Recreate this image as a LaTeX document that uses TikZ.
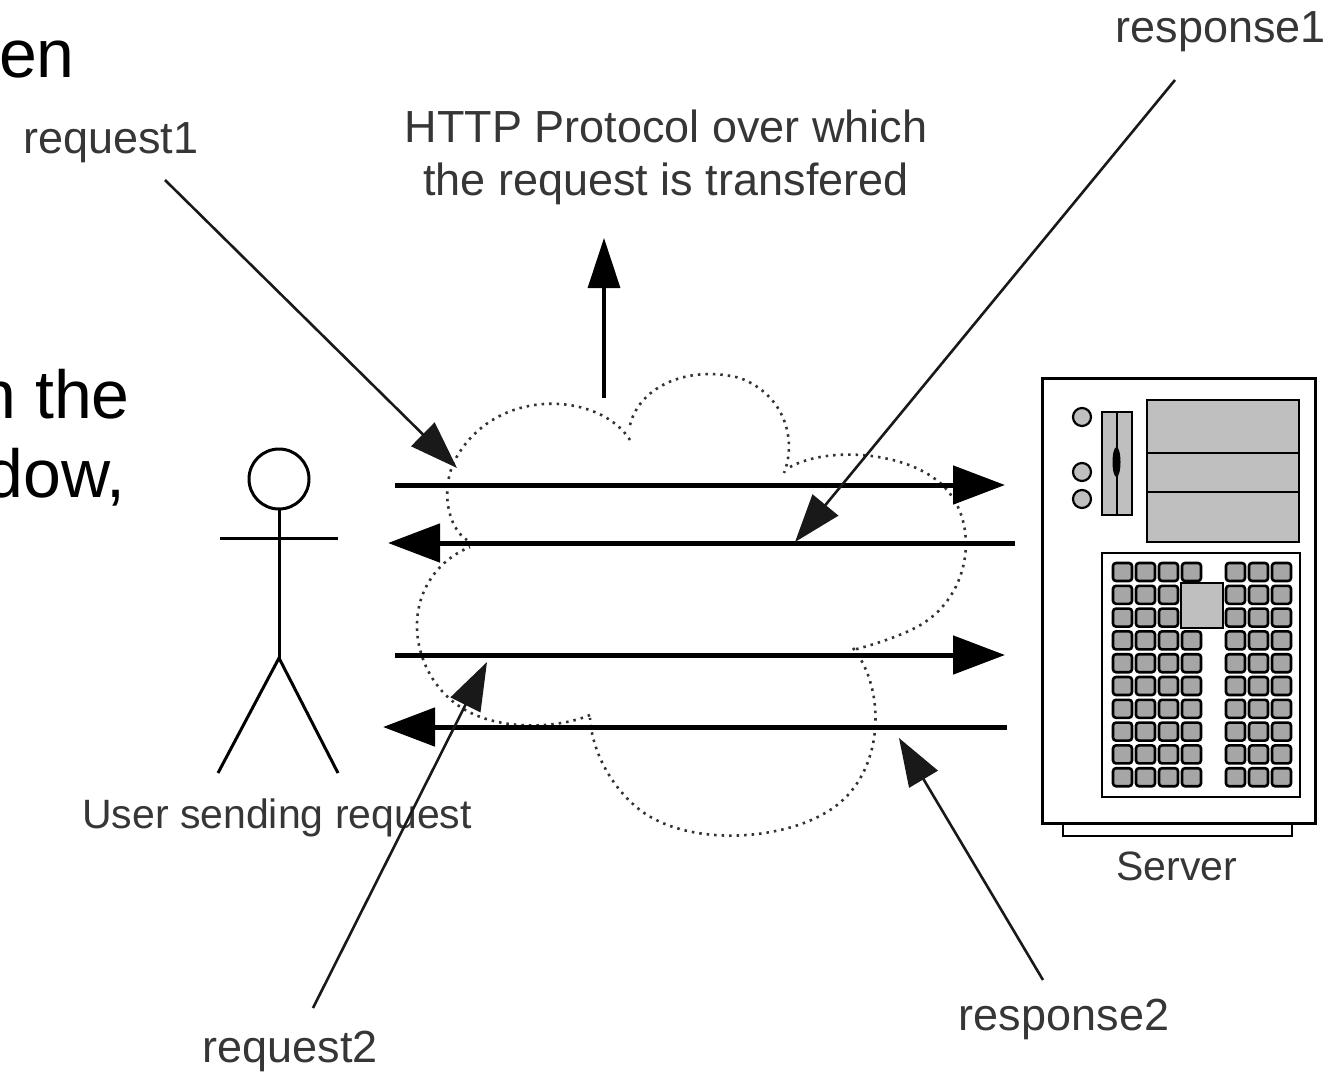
\documentclass[tikz,border=0pt]{standalone}
\usepackage{fontspec}
\setmainfont{Liberation Sans}
\usetikzlibrary{arrows.meta}
\definecolor{bayfill}{HTML}{BFBFBF}
\definecolor{labelgray}{HTML}{363636}
\begin{document}
\begin{tikzpicture}[x=1pt,y=-1pt,
  lbl/.style={inner sep=0pt, text=labelgray, font=\fontsize{45}{52}\selectfont},
  smalllbl/.style={inner sep=0pt, text=labelgray, font=\fontsize{41}{48}\selectfont},
  slide/.style={inner sep=0pt, text=black, font=\fontsize{68}{79}\selectfont},
  flow/.style={line width=5pt, -{Triangle[length=52pt,width=38pt]}},
  upflow/.style={line width=3.2pt, -{Triangle[length=50pt,width=32pt]}},
  pointer/.style={line width=2.6pt, black!90, -{Triangle[length=48pt,width=33pt]}},
  cloudline/.style={line width=2.6pt, black!80, dash pattern=on 2.5pt off 5pt},
  limb/.style={line width=3pt},
  part/.style={draw=black, line width=2.5pt},
  key/.style={draw=black, line width=2.6pt, fill=black!35, rounded corners=3pt},
]
\useasboundingbox (0,0) rectangle (1328,1074);

% slide text fragments
\node[slide, anchor=base east] (s1) at (75,77) {en};
\node[slide, anchor=base east] (s2) at (130,418) {n the};
\node[slide, anchor=base east] (s3) at (126,497) {dow,};

% cloud
\draw[cloudline] (630,440) .. controls (600,392) and (495,385) .. (455,460)
  .. controls (440,490) and (448,528) .. (467,540);
\draw[cloudline] (630,425) .. controls (640,385) and (690,365) .. (740,378)
  .. controls (785,395) and (797,440) .. (784,473);
\draw[cloudline] (790,467) .. controls (830,445) and (915,452) .. (947,490)
  .. controls (980,528) and (970,600) .. (915,628)
  .. controls (895,638) and (872,645) .. (853,650);
\draw[cloudline] (853,648) .. controls (887,690) and (885,775) .. (830,810)
  .. controls (785,840) and (690,848) .. (640,810)
  .. controls (612,788) and (592,752) .. (590,718);
\draw[cloudline] (590,715) .. controls (560,728) and (500,732) .. (462,708)
  .. controls (420,682) and (403,622) .. (430,580)
  .. controls (440,564) and (455,553) .. (470,547);

% user (stick figure)
\draw[limb] (279,479) circle[radius=30];
\draw[limb] (279,509) -- (279,658);
\draw[limb] (220,538) -- (338,538);
\draw[limb] (218,773) -- (279,658) -- (338,773);
\node[smalllbl, anchor=base] (user) at (277,828) {User sending request};

% server
\draw[line width=3pt, fill=white] (1042,378) rectangle (1315,823);
\draw[line width=2.5pt] (1063,823) rectangle (1292,836);
\draw[part, fill=bayfill] (1147,400) rectangle (1299,542);
\draw[part] (1147,453) -- (1299,453) (1147,492) -- (1299,492);
\draw[part, fill=bayfill] (1102,412) rectangle (1132,515);
\draw[line width=2pt] (1117,412) -- (1117,515);
\fill (1116.5,462) ellipse [x radius=4, y radius=15];
\foreach \cy in {417,472,499}{
  \draw[line width=2.2pt, fill=bayfill] (1082,\cy) circle[radius=9];
}
\draw[part, fill=white] (1102,553) rectangle (1300,797);
\foreach \r in {0,...,9}{
  \pgfmathsetmacro\yy{563+\r*22.8}
  \foreach \xx in {1113,1136,1159,1182,1226,1249,1272}{
    \draw[key] (\xx,\yy) rectangle ++(19,18);
  }
}
\draw[line width=2.4pt, fill=bayfill] (1181,583) rectangle (1223,628);
\node[smalllbl, anchor=base] (server) at (1177,880) {Server};

% flows between user and server
\coordinate (f1s) at (395,485);  \coordinate (f1e) at (1005,485);
\coordinate (f2s) at (1015,543); \coordinate (f2e) at (388,543);
\coordinate (f3s) at (395,655);  \coordinate (f3e) at (1005,655);
\coordinate (f4s) at (1007,727); \coordinate (f4e) at (383,727);
\draw[flow] (f1s) -- (f1e);
\draw[flow] (f2s) -- (f2e);
\draw[flow] (f3s) -- (f3e);
\draw[flow] (f4s) -- (f4e);

% HTTP protocol label and arrow
\node[lbl, anchor=base] (http1) at (666,142) {HTTP Protocol over which};
\node[lbl, anchor=base] (http2) at (666,195) {the request is transfered};
\coordinate (cloudtop) at (604,398);
\coordinate (httpfoot) at (604,238);
\draw[upflow] (cloudtop) -- (httpfoot);

% labels with pointers
\node[lbl, anchor=base west] (req1) at (23,153) {request1};
\node[lbl, anchor=base east] (resp1) at (1326,42) {response1};
\node[lbl, anchor=base] (req2) at (290,1062) {request2};
\node[lbl, anchor=base] (resp2) at (1064,1030) {response2};

\coordinate (p1s) at (165,180);  \coordinate (p1e) at (457,468);
\coordinate (p2s) at (1175,80);  \coordinate (p2e) at (795,542);
\coordinate (p3s) at (313,1008); \coordinate (p3e) at (487,662);
\coordinate (p4s) at (1043,980); \coordinate (p4e) at (899,738);
\draw[pointer] (p1s) -- (p1e);
\draw[pointer] (p2s) -- (p2e);
\draw[pointer] (p3s) -- (p3e);
\draw[pointer] (p4s) -- (p4e);
\end{tikzpicture}
\end{document}
